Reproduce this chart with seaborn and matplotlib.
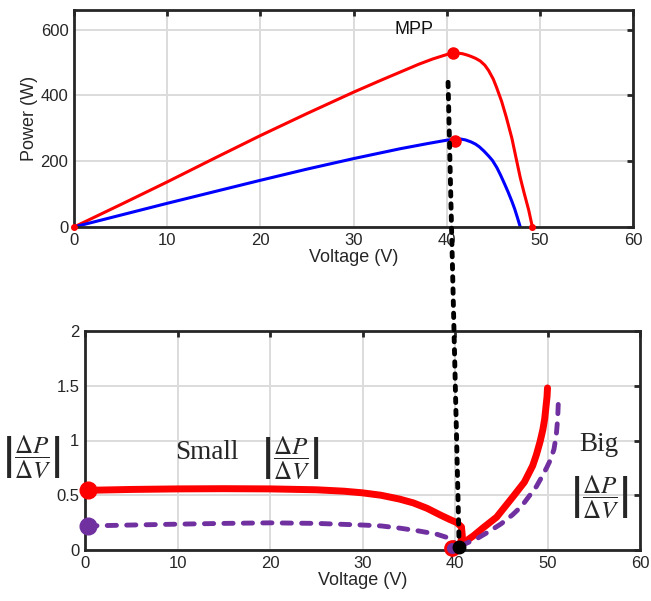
import matplotlib
matplotlib.use("Agg")
import matplotlib.pyplot as plt
from matplotlib.patches import ConnectionPatch
import seaborn as sns

# ---------------- data ----------------
# Top: P-V curves
v_red = [0, 5, 10, 15, 20, 25, 30, 33, 35, 37, 38.5, 39.5, 40.3, 40.8, 41.3, 41.7, 42.2, 42.6,
         43.1, 43.6, 44.1, 44.5, 45.0, 45.35, 45.9, 46.4, 47.0, 47.5, 47.9, 48.3, 48.8, 49.2]
p_red = [0, 68, 137, 208, 278, 345, 410, 447, 471, 495, 511, 520, 527, 529, 528.5, 527, 523, 519,
         513, 505, 492, 476, 450, 425, 382, 334, 270, 203, 150, 105, 52, 0]
v_blue = [0, 5, 10, 15, 20, 25, 30, 35, 38, 40, 40.5, 41, 41.5, 42, 42.6, 43.1, 43.5, 44.0,
          44.5, 44.9, 45.4, 45.8, 46.2, 46.6, 47.0, 47.3, 47.6, 47.9]
p_blue = [0, 36, 72, 107, 142, 176, 208, 238, 254, 264, 266, 267.5, 267.5, 265, 259, 252, 244, 231,
          216, 203, 180, 157, 132, 106, 78, 55, 28, 0]
mpp_v = [40.7, 40.9]
mpp_p = [529, 263]
zero_v = [0, 49.2]
zero_p = [0, 0]

# Bottom: |dP/dV| curves
v_red_l = [0.3, 5, 10, 15, 20, 25, 28, 30, 32, 34, 35.5, 37, 38.4, 39.4, 40.2, 40.7, 40.8, 40.5]
d_red_l = [0.545, 0.553, 0.558, 0.56, 0.558, 0.55, 0.537, 0.522, 0.5, 0.465, 0.43, 0.38, 0.32,
           0.28, 0.25, 0.21, 0.12, 0.05]
v_red_r = [40.5, 41.0, 42.0, 43.0, 44.5, 46.3, 47.5, 48.4, 48.8, 49.2, 49.5, 49.7, 49.85, 49.95, 50.0]
d_red_r = [0.04, 0.07, 0.13, 0.20, 0.30, 0.49, 0.62, 0.77, 0.87, 0.99, 1.10, 1.20, 1.32, 1.40, 1.48]
v_pur_l = [0.3, 5, 10, 15, 20, 25, 30, 32, 34, 36, 38, 39.3, 40.2]
d_pur_l = [0.22, 0.228, 0.236, 0.243, 0.248, 0.243, 0.228, 0.22, 0.2, 0.175, 0.145, 0.11, 0.05]
v_pur_r = [40.6, 41.2, 42.5, 43.7, 45.0, 46.2, 47.2, 48.0, 48.8, 49.4, 49.9, 50.3, 50.7, 50.95, 51.1, 51.2]
d_pur_r = [0.04, 0.06, 0.11, 0.17, 0.24, 0.32, 0.40, 0.49, 0.58, 0.67, 0.75, 0.82, 0.92, 1.05, 1.2, 1.41]
start_v = [0.3, 0.3]
start_d = [0.545, 0.22]
min_v = [39.7, 40.45]
min_d = [0.015, 0.03]

x_ticks = [0, 10, 20, 30, 40, 50, 60]
p_ticks = [0, 200, 400, 600]
d_ticks = [0, 0.5, 1, 1.5, 2]
d_tick_labels = ["0", "0.5", "1", "1.5", "2"]

RED = "#ff0000"
BLUE = "#0000ff"
PURPLE = "#7030a0"

# ---------------- style ----------------
sns.set_style("white")
plt.rcParams["font.family"] = ["Liberation Sans", "DejaVu Sans"]
plt.rcParams["mathtext.fontset"] = "stix"

fig = plt.figure(figsize=(6.51, 6.01), dpi=100)
ax1 = fig.add_axes([74 / 651, 1 - 227 / 601, 559 / 651, 217 / 601])
ax2 = fig.add_axes([85 / 651, 1 - 550 / 601, 555 / 651, 219 / 601])


def style_axes(ax):
    ax.grid(True, color="#dcdcdc", lw=1.4)
    ax.set_axisbelow(True)
    for s in ax.spines.values():
        s.set_color("#262626")
        s.set_linewidth(2.0)
        s.set_visible(True)
    ax.tick_params(direction="in", length=4, width=2, colors="#262626",
                   labelsize=12, top=True, right=True, pad=4)


# ---- top ----
sns.lineplot(x=v_red, y=p_red, ax=ax1, color=RED, lw=2.2, sort=False, estimator=None)
sns.lineplot(x=v_blue, y=p_blue, ax=ax1, color=BLUE, lw=2.2, sort=False, estimator=None)
ax1.plot(mpp_v, mpp_p, "o", color=RED, ms=8, zorder=5, clip_on=False)
ax1.plot(zero_v, zero_p, "o", color=RED, ms=4, zorder=5, clip_on=False)
ax1.set_xlim(0, 60)
ax1.set_ylim(0, 660)
ax1.set_xticks(x_ticks)
ax1.set_yticks(p_ticks)
ax1.set_xlabel("Voltage (V)", fontsize=13, color="#262626", labelpad=1)
ax1.set_ylabel("Power (W)", fontsize=13, color="#262626", labelpad=2)
ax1.text(36.5, 600, "MPP", fontsize=13, ha="center", va="center", color="#111111")
style_axes(ax1)

# ---- bottom ----
sns.lineplot(x=v_red_l, y=d_red_l, ax=ax2, color=RED, lw=5, sort=False, estimator=None,
             solid_capstyle="round")
sns.lineplot(x=v_red_r, y=d_red_r, ax=ax2, color=RED, lw=5, sort=False, estimator=None,
             solid_capstyle="round")
for vv, dd in [(v_pur_l, d_pur_l), (v_pur_r, d_pur_r)]:
    ln = sns.lineplot(x=vv, y=dd, ax=ax2, color=PURPLE, lw=3.5, sort=False,
                      estimator=None).lines[-1]
    ln.set_dashes((1.9, 2.1))
    ln.set_dash_capstyle("round")
ax2.plot(start_v[:1], start_d[:1], "o", color=RED, ms=12, zorder=6, clip_on=False)
ax2.plot(start_v[1:], start_d[1:], "o", color=PURPLE, ms=12, zorder=6, clip_on=False)
ax2.plot(min_v[:1], min_d[:1], "o", mfc=PURPLE, mec=RED, mew=2, ms=10, zorder=6, clip_on=False)
ax2.plot(min_v[1:], min_d[1:], "o", color="black", ms=9, zorder=7, clip_on=False)
ax2.set_xlim(0, 60)
ax2.set_ylim(0, 2)
ax2.set_xticks(x_ticks)
ax2.set_yticks(d_ticks)
ax2.set_yticklabels(d_tick_labels)
ax2.set_xlabel("Voltage (V)", fontsize=13, color="#262626", labelpad=1)
style_axes(ax2)

frac = r"$\left|\dfrac{\Delta P}{\Delta V}\right|$"
ax2.text(-0.097, 0.425, frac, transform=ax2.transAxes, fontsize=18, ha="center", va="center")
ax2.text(9.7, 0.89, "Small", fontsize=19.5, family=["Liberation Serif", "DejaVu Serif"],
         ha="left", va="center")
ax2.text(22.2, 0.84, frac, fontsize=18, ha="center", va="center")
ax2.text(55.6, 0.96, "Big", fontsize=19.5, family=["Liberation Serif", "DejaVu Serif"],
         ha="center", va="center")
ax2.text(55.6, 0.48, frac, fontsize=18, ha="center", va="center")

# dotted connector from top MPP region to bottom minimum
con = ConnectionPatch(xyA=(40.15, 440), coordsA=ax1.transData,
                      xyB=(40.45, 0.03), coordsB=ax2.transData,
                      color="black", lw=3.5, linestyle=(0, (0.9, 1.6)),
                      capstyle="round", zorder=10)
fig.add_artist(con)

fig.savefig("out.png", dpi=100)
